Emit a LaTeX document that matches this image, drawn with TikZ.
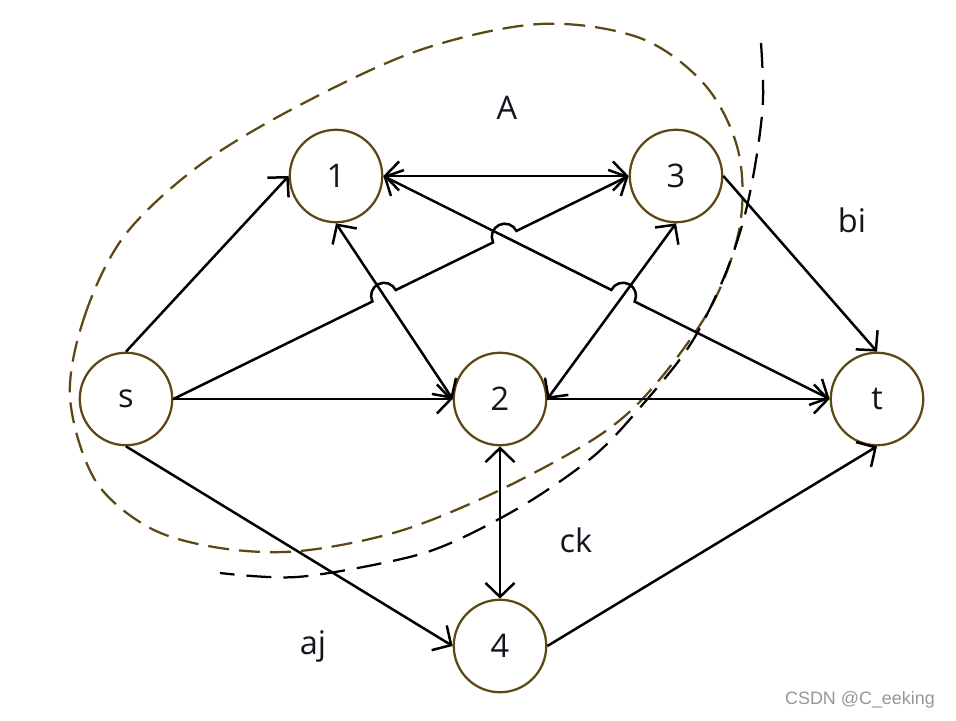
\documentclass[tikz,border=0pt]{standalone}
\usepackage{fontspec}
\setmainfont{Open Sans}
\newfontfamily\wmfont{Liberation Sans}
\usetikzlibrary{arrows.meta,calc,intersections}
\definecolor{nodecol}{RGB}{92,72,20}
\definecolor{wmgray}{RGB}{150,150,150}
\definecolor{txt}{RGB}{20,20,30}
\begin{document}
\begin{tikzpicture}[x=0.02cm,y=0.02cm,
  vertex/.style={circle,draw=nodecol,line width=0.045cm,minimum size=1.85cm,inner sep=0pt,text=txt,font=\fontsize{18.5}{20}\selectfont},
  edge/.style={line width=0.05cm,black},
  lab/.style={text=txt,font=\fontsize{18.5}{20}\selectfont},
  cutA/.style={draw=nodecol,line width=0.045cm,dash pattern=on 0.42cm off 0.2cm},
  cutB/.style={draw=black,line width=0.045cm,dash pattern=on 0.5cm off 0.24cm},
  >={Straight Barb[length=0.28cm,width=0.58cm]}]
\useasboundingbox (0,0) rectangle (956,720);
\def\hr{0.26cm}
% cut curves
\draw[cutA] plot[smooth cycle,tension=0.55] coordinates {(70,323) (85,405) (125,485) (200,555) (300,615) (420,670) (540,696) (640,682) (705,635) (738,570) (740,495) (712,415) (655,335) (600,285) (500,230) (400,189) (300,169) (220,172) (150,192) (95,240)};
\draw[cutB] plot[smooth,tension=0.55] coordinates {(761,677) (763,620) (756,560) (743,498) (722,438) (690,375) (644,317) (595,265) (527,217) (453,178) (397,160) (297,143) (220,147)};
% nodes
\node[vertex] (s) at (126,321) {s};
\node[vertex] (1) at (336,544) {1};
\node[vertex] (3) at (676,544) {3};
\node[vertex] (2) at (500,321) {2};
\node[vertex] (t) at (877,321) {t};
\node[vertex] (4) at (500,74) {4};
% crossing points
\path[name path=l13] (s.east) -- (3.west);
\path[name path=l12] (1.south) -- (2.west);
\path[name path=l1t] (1.east) -- (t.west);
\path[name path=l23] (2.east) -- (3.south);
\path[name intersections={of=l13 and l12,by=h1}];
\path[name intersections={of=l13 and l1t,by=h2}];
\path[name intersections={of=l1t and l23,by=h3}];
% edges
\draw[edge,->] (s.north) -- (1.west);
\draw[edge,->] (s.east) -- (2.west);
\draw[edge,->] (s.south) -- (4.west);
\draw[edge,<->] (1.east) -- (3.west);
\draw[edge,<->] (1.south) -- (2.west);
\draw[edge,<->] (2.east) -- (3.south);
\draw[edge,->] (2.east) -- (t.west);
\draw[edge,<->] (2.south) -- (4.north);
\draw[edge,->] (3.east) -- (t.north);
\draw[edge,->] (4.east) -- (t.south);
\draw[edge,->] let \p1=(s.east), \p2=(3.west), \n1={atan2(\y2-\y1,\x2-\x1)} in
  (s.east) -- ($(h1)!\hr!(s.east)$) arc[start angle=\n1+180, end angle=\n1, radius=\hr]
  -- ($(h2)!\hr!(s.east)$) arc[start angle=\n1+180, end angle=\n1, radius=\hr] -- (3.west);
\draw[edge,<->] let \p1=(1.east), \p2=(t.west), \n1={atan2(\y2-\y1,\x2-\x1)} in
  (1.east) -- ($(h3)!\hr!(1.east)$) arc[start angle=\n1+180, end angle=\n1, radius=\hr] -- (t.west);
% labels
\node[lab] (lA) at (507,612) {A};
\node[lab] (lbi) at (852,500) {bi};
\node[lab] (lck) at (576,180) {ck};
\node[lab] (laj) at (313,74) {aj};
\node[anchor=east,text=wmgray,font=\wmfont\fontsize{10.2}{12}\selectfont] (wm) at (941,20) {CSDN @C\_eeking};
\end{tikzpicture}
\end{document}
